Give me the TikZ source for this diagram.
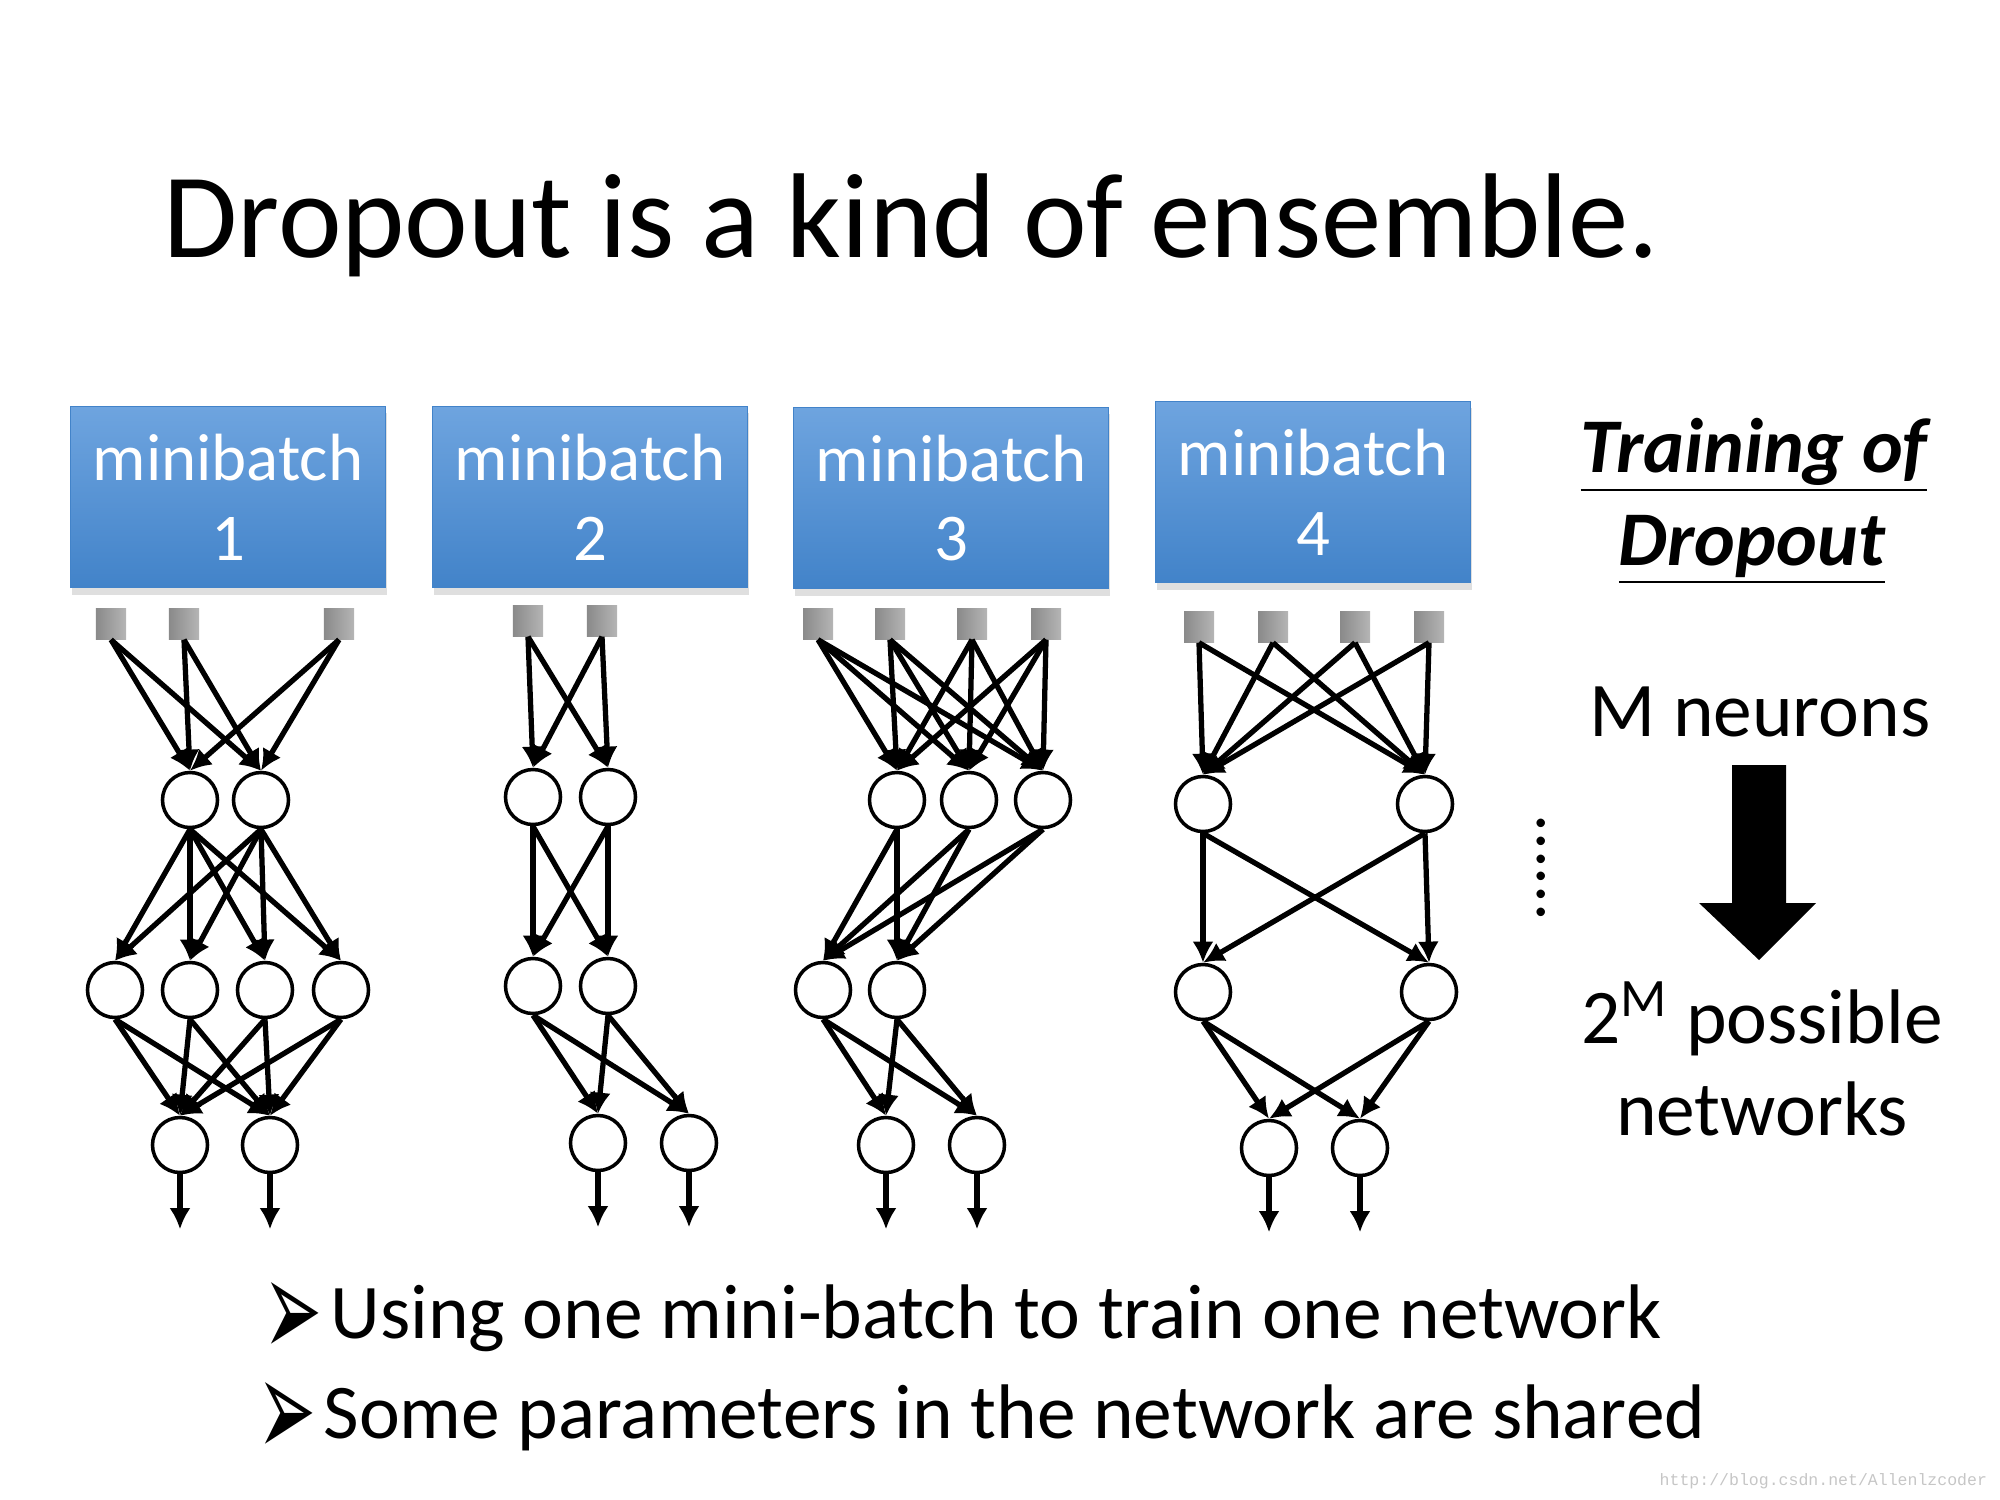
\documentclass[tikz,border=0pt]{standalone}
\usepackage{fontspec}
\setmainfont{Carlito}
\newfontfamily\symfont{DejaVu Sans}
\newfontfamily\webfont{Liberation Mono}
\usetikzlibrary{arrows.meta,shadows}

\definecolor{mbtop}{RGB}{110,164,223}
\definecolor{mbbot}{RGB}{66,131,201}

\tikzset{
  batch/.style={minimum width=3.15cm, minimum height=1.81cm, top color=mbtop, bottom color=mbbot,
    draw=mbbot, line width=0.3pt, text=white, align=center, font=\fontsize{19}{22.7}\selectfont,
    drop shadow={shadow xshift=0.5pt, shadow yshift=-2pt, opacity=0.25}},
  inp/.style={minimum size=0.3cm, inner sep=0pt, left color=gray!92, right color=gray!58},
  neuron/.style={circle, draw, line width=1pt, minimum size=0.55cm, inner sep=0pt, fill=white},
  conn/.style={line width=1.5pt, -{Latex[length=6pt,width=6pt]}},
  big/.style={font=\fontsize{22}{26}\selectfont},
  bullet/.style={font=\symfont\fontsize{20}{20}\selectfont, yscale=2, inner sep=0pt},
}

\begin{document}
\begin{tikzpicture}[x=0.01cm, y=-0.01cm]
  \useasboundingbox (0,0) rectangle (2000,1500);
  \node[anchor=base west, inner sep=0pt, font=\fontsize{34.3}{40}\selectfont] (title) at (163,258) {Dropout is a kind of ensemble.};

  % minibatches
  \node[batch] (mb1) at (228,497) {minibatch\\1};
  \node[batch] (mb2) at (590,497) {minibatch\\2};
  \node[batch] (mb3) at (951,498) {minibatch\\3};
  \node[batch] (mb4) at (1313,492) {minibatch\\4};

  % network 1
  \foreach \x [count=\k] in {111,184,339} \node[inp] (n1i\k) at (\x,624) {};
  \foreach \x [count=\k] in {190,261} \node[neuron] (n1h\k) at (\x,800) {};
  \foreach \x [count=\k] in {115,190,265,341} \node[neuron] (n1g\k) at (\x,990) {};
  \foreach \x [count=\k] in {180,270} \node[neuron] (n1o\k) at (\x,1145) {};
  \foreach \a in {1,2,3} \foreach \b in {1,2} \draw[conn] (n1i\a.south) -- (n1h\b.north);
  \foreach \a in {1,2} \foreach \b in {1,...,4} \draw[conn] (n1h\a.south) -- (n1g\b.north);
  \foreach \a in {1,...,4} \foreach \b in {1,2} \draw[conn] (n1g\a.south) -- (n1o\b.north);
  \foreach \b in {1,2} \draw[conn] (n1o\b.south) -- ++(0,55);

  % network 2
  \foreach \x [count=\k] in {528,602} \node[inp] (n2i\k) at (\x,621) {};
  \foreach \x [count=\k] in {533,608} \node[neuron] (n2h\k) at (\x,797) {};
  \foreach \x [count=\k] in {533,608} \node[neuron] (n2g\k) at (\x,986) {};
  \foreach \x [count=\k] in {598,689} \node[neuron] (n2o\k) at (\x,1143) {};
  \foreach \a in {1,2} \foreach \b in {1,2} {
    \draw[conn] (n2i\a.south) -- (n2h\b.north);
    \draw[conn] (n2h\a.south) -- (n2g\b.north);
    \draw[conn] (n2g\a.south) -- (n2o\b.north);
  }
  \foreach \b in {1,2} \draw[conn] (n2o\b.south) -- ++(0,55);

  % network 3
  \foreach \x [count=\k] in {818,890,972,1046} \node[inp] (n3i\k) at (\x,624) {};
  \foreach \x [count=\k] in {897,969,1043} \node[neuron] (n3h\k) at (\x,800) {};
  \foreach \x [count=\k] in {823,897} \node[neuron] (n3g\k) at (\x,990) {};
  \foreach \x [count=\k] in {886,977} \node[neuron] (n3o\k) at (\x,1145) {};
  \foreach \a in {1,...,4} \foreach \b in {1,2,3} \draw[conn] (n3i\a.south) -- (n3h\b.north);
  \foreach \a in {1,2,3} \foreach \b in {1,2} \draw[conn] (n3h\a.south) -- (n3g\b.north);
  \foreach \a in {1,2} \foreach \b in {1,2} \draw[conn] (n3g\a.south) -- (n3o\b.north);
  \foreach \b in {1,2} \draw[conn] (n3o\b.south) -- ++(0,55);

  % network 4
  \foreach \x [count=\k] in {1199,1273,1355,1429} \node[inp] (n4i\k) at (\x,627) {};
  \foreach \x [count=\k] in {1203,1425} \node[neuron] (n4h\k) at (\x,804) {};
  \foreach \x [count=\k] in {1203,1429} \node[neuron] (n4g\k) at (\x,992) {};
  \foreach \x [count=\k] in {1269,1360} \node[neuron] (n4o\k) at (\x,1148) {};
  \foreach \a in {1,...,4} \foreach \b in {1,2} \draw[conn] (n4i\a.south) -- (n4h\b.north);
  \foreach \a in {1,2} \foreach \b in {1,2} {
    \draw[conn] (n4h\a.south) -- (n4g\b.north);
    \draw[conn] (n4g\a.south) -- (n4o\b.north);
  }
  \foreach \b in {1,2} \draw[conn] (n4o\b.south) -- ++(0,55);

  \node[rotate=-90, font=\fontsize{20}{20}\selectfont] (dots) at (1541,868) {......};

  % right column
  \node[anchor=base, font=\fontsize{22}{26}\selectfont\bfseries\itshape] (tr1) at (1754,472) {\underline{Training of}};
  \node[anchor=base, font=\fontsize{22}{26}\selectfont\bfseries\itshape] (tr2) at (1752,565) {\underline{Dropout}};
  \node[anchor=base, big] (mneu) at (1760,736) {M neurons};
  \fill (1732,765) -- (1786,765) -- (1786,903) -- (1816,903) -- (1759,960) -- (1699,903) -- (1732,903) -- cycle;
  \node[anchor=base, big] (poss) at (1762,1043) {2\textsuperscript{M} possible};
  \node[anchor=base, big] (nets) at (1762,1135) {networks};

  % bullets
  \node[bullet] (bul1) at (293,1320) {➢};
  \node[anchor=base west, big, inner sep=0pt] (txt1) at (330,1338) {Using one mini-batch to train one network};
  \node[bullet] (bul2) at (287,1420) {➢};
  \node[anchor=base west, big, inner sep=0pt] (txt2) at (323,1438) {Some parameters in the network are shared};

  \node[anchor=base west, font=\webfont\fontsize{4.7}{5}\selectfont, text=gray!45, inner sep=0pt] (wm) at (1659,1485) {http://blog.csdn.net/Allenlzcoder};
\end{tikzpicture}
\end{document}
